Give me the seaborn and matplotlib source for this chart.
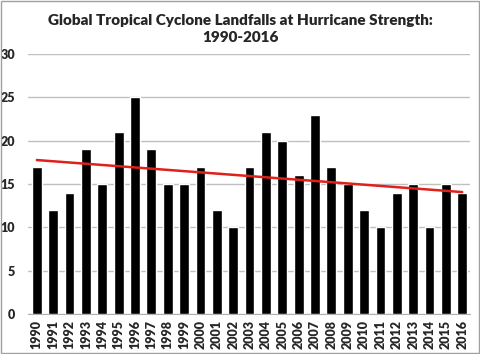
import numpy as np
import pandas as pd
import seaborn as sns
from matplotlib import pyplot as plt
from matplotlib.patches import Rectangle

years = [str(y) for y in range(1990, 2017)]
landfalls = [17, 12, 14, 19, 15, 21, 25, 19, 15, 15, 17, 12, 10, 17, 21,
             20, 16, 23, 17, 15, 12, 10, 14, 15, 10, 15, 14]
title = "Global Tropical Cyclone Landfalls at Hurricane Strength:\n1990-2016"

df = pd.DataFrame({"year": years, "landfalls": landfalls})

sns.set_style("white")
plt.rcParams['font.family'] = ['Lato', 'DejaVu Sans']

fig = plt.figure(figsize=(4.8, 3.54), dpi=100)
ax = fig.add_axes([0.058, 0.113, 0.922, 0.734])

sns.barplot(data=df, x="year", y="landfalls", color="black", width=0.6,
            saturation=1, ax=ax, zorder=3)

# linear trend
xs = np.arange(len(years))
slope, intercept = np.polyfit(xs, landfalls, 1)
ax.plot([xs[0], xs[-1]], [intercept, intercept + slope * xs[-1]],
        color="#e0201b", lw=1.8, zorder=4)

ax.set_ylim(0, 30)
ax.set_xlim(-0.55, len(years) - 0.5)
ax.set_yticks(range(0, 31, 5))
ax.yaxis.grid(True, color="#c0c0c0", lw=1, zorder=0)
ax.set_xlabel("")
ax.set_ylabel("")
for s in ["top", "right", "left"]:
    ax.spines[s].set_visible(False)
ax.spines["bottom"].set_color("#b0b0b0")
ax.tick_params(axis="x", rotation=90, labelsize=9, length=0, pad=4)
ax.tick_params(axis="y", labelsize=9, length=0, pad=9)
for t in ax.get_xticklabels() + ax.get_yticklabels():
    t.set_fontweight("heavy")

fig.text(0.5, 0.96, title, ha="center", va="top", fontsize=11,
         fontweight="heavy", linespacing=1.35)

fig.patches.append(Rectangle((0.002, 0.003), 0.995, 0.993, transform=fig.transFigure,
                             fill=False, edgecolor="#a0a0a0", lw=1))

plt.savefig("out.png", dpi=100)
